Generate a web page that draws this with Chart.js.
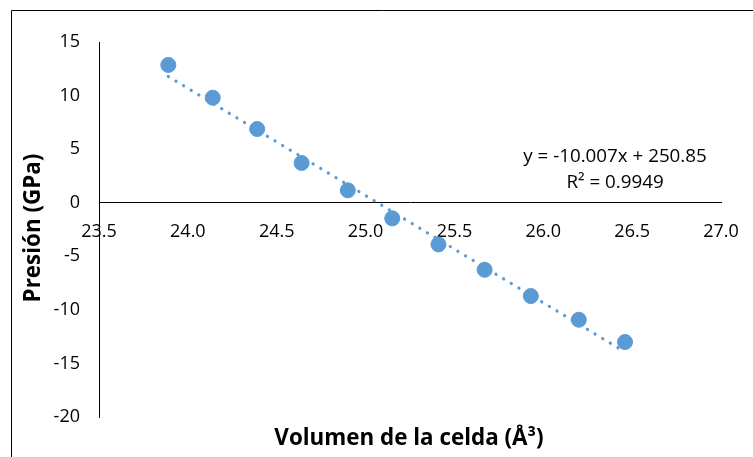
<!DOCTYPE html>
<html>
<head>
<meta charset="utf-8">
<script src="https://cdn.jsdelivr.net/npm/chart.js@4/dist/chart.umd.min.js"></script>
<style>
  html, body { margin: 0; padding: 0; background: #fff; }
  #wrap { width: 753px; height: 457px; position: relative; }
</style>
</head>
<body>
<div id="wrap"><canvas id="c" width="753" height="457"></canvas></div>
<script>
// Data
const volumes   = [23.89, 24.14, 24.39, 24.64, 24.90, 25.15, 25.41, 25.67, 25.93, 26.20, 26.46];
const pressures = [12.86, 9.80, 6.88, 3.71, 1.16, -1.46, -3.89, -6.26, -8.71, -10.92, -13.00];
// Linear trendline end points (as drawn in the reference)
const trendX = [23.89, 26.46];
const trendY = [11.78, -13.94];
const xTicks = [23.5, 24.0, 24.5, 25.0, 25.5, 26.0, 26.5, 27.0];
const yTicks = [-20, -15, -10, -5, 0, 5, 10, 15];
const eqLine1 = 'y = -10.007x + 250.85';
const eqLine2 = 'R² = 0.9949';
const xTitle = 'Volumen de la celda (Å³)';
const yTitle = 'Presión (GPa)';

const BLUE = '#5B9BD5';
const FONT = '"Open Sans", "Liberation Sans", sans-serif';

const pts = volumes.map((v, i) => ({x: v, y: pressures[i]}));
const trend = trendX.map((v, i) => ({x: v, y: trendY[i]}));

const decor = {
  id: 'decor',
  beforeDraw(chart) {
    const ctx = chart.ctx;
    ctx.save();
    ctx.fillStyle = '#fff';
    ctx.fillRect(0, 0, chart.width, chart.height);
    ctx.strokeStyle = '#000';
    ctx.lineWidth = 1;
    ctx.beginPath();
    ctx.moveTo(11.5, 470);
    ctx.lineTo(11.5, 10.5);
    ctx.lineTo(800, 10.5);
    ctx.stroke();
    ctx.restore();
  },
  afterDraw(chart) {
    const ctx = chart.ctx;
    ctx.save();
    ctx.fillStyle = '#000';
    ctx.textAlign = 'center';
    ctx.textBaseline = 'middle';
    ctx.font = '18.8px ' + FONT;
    ctx.fillText(eqLine1, 615, 157);
    ctx.fillText(eqLine2, 615, 183);
    ctx.font = 'bold 22.4px ' + FONT;
    ctx.fillText(xTitle, 409, 439);
    ctx.translate(34, 228);
    ctx.rotate(-Math.PI / 2);
    ctx.fillText(yTitle, 0, 0);
    ctx.restore();
  }
};

new Chart(document.getElementById('c'), {
  type: 'scatter',
  data: {
    datasets: [
      {
        label: 'Trend',
        type: 'line',
        data: trend,
        borderColor: BLUE,
        borderWidth: 3.2,
        borderDash: [0.1, 8.8],
        borderCapStyle: 'round',
        pointRadius: 0,
        fill: false,
        order: 0
      },
      {
        label: 'Presión',
        data: pts,
        backgroundColor: BLUE,
        borderColor: BLUE,
        pointRadius: 7.5,
        pointHoverRadius: 7.5,
        order: 1
      }
    ]
  },
  options: {
    responsive: false,
    animation: false,
    events: [],
    layout: { padding: { left: 0, top: 42, right: 32, bottom: 40 } },
    plugins: { legend: { display: false }, tooltip: { enabled: false } },
    scales: {
      x: {
        type: 'linear',
        min: 23.5, max: 27,
        position: { y: 0 },
        grid: { display: false, drawTicks: false },
        border: { display: true, color: '#000', width: 1 },
        afterBuildTicks: s => { s.ticks = xTicks.map(v => ({value: v})); },
        afterFit: s => { s.height = 0; s.paddingLeft = 0; s.paddingRight = 0; },
        ticks: {
          color: '#000',
          font: { family: FONT, size: 18 },
          padding: 18,
          maxRotation: 0,
          autoSkip: false,
          callback: v => v.toFixed(1)
        }
      },
      y: {
        type: 'linear',
        min: -20, max: 15,
        position: 'left',
        grid: { display: false, drawTicks: false },
        border: { display: true, color: '#000', width: 1 },
        afterBuildTicks: s => { s.ticks = yTicks.map(v => ({value: v})); },
        afterFit: s => { s.width = 99; s.paddingTop = 0; s.paddingBottom = 0; },
        ticks: {
          color: '#000',
          font: { family: FONT, size: 18 },
          padding: 19,
          autoSkip: false,
          callback: v => String(v)
        }
      }
    }
  },
  plugins: [decor]
});
</script>
</body>
</html>
